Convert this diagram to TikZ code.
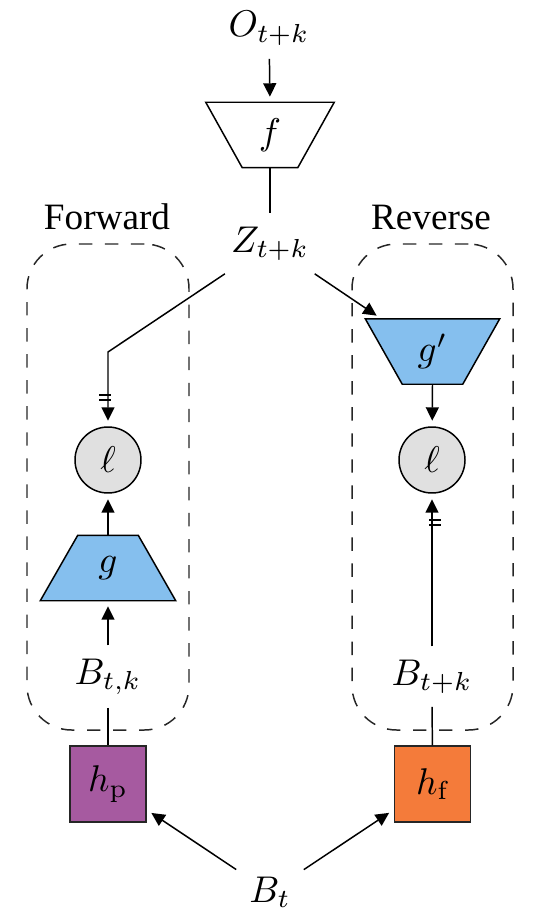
\documentclass[tikz,border=0pt]{standalone}
\usepackage{fontspec}
\newfontfamily\labelfont{Liberation Serif}
\usetikzlibrary{arrows.meta,decorations.markings,calc}
\def\PX{0.2688pt}
\definecolor{tblue}{RGB}{133,191,238}
\definecolor{tpurple}{RGB}{166,90,160}
\definecolor{torange}{RGB}{244,123,58}
\definecolor{lossgray}{RGB}{224,224,224}
\tikzset{
  arr/.style={-{Triangle[length=3.6pt,width=3.5pt]},shorten >=1.5pt},
  plain/.style={draw=none,inner sep=0pt},
  txt/.style={inner sep=3.33pt},
  trapbox/.style={draw=none,inner sep=0pt,minimum height=64*\PX},
  trapline/.style={draw=black,line join=miter},
  loss/.style={circle,draw=black,fill=lossgray,minimum size=66*\PX,inner sep=0pt},
  headbox/.style={rectangle,draw=black!85,minimum size=76*\PX,inner sep=0pt},
  groupbox/.style={rectangle,draw=black!85,dash pattern=on 3.6pt off 3.4pt,rounded corners=12pt,minimum width=162*\PX,minimum height=486*\PX,inner sep=0pt},
  stopgrad/.style={postaction={decorate,decoration={markings,
     mark=at position -7pt with {\draw[-] (0,-2.4pt) -- (0,2.4pt);},
     mark=at position -8.4pt with {\draw[-] (0,-2.4pt) -- (0,2.4pt);}}}},
  grouplabel/.style={font=\labelfont,inner sep=0pt}
}
\begin{document}
\begin{tikzpicture}[x=0.2688pt,y=-0.2688pt]
\useasboundingbox (0,0) rectangle (541,920);
% group boxes
\node[groupbox] (fwd) at (108,487) {};
\node[groupbox,minimum width=161*\PX] (rev) at (432.5,487) {};
\node[grouplabel,anchor=base] (fwdlab) at (107,229) {Forward};
\node[grouplabel,anchor=base] (revlab) at (431,229) {Reverse};
% top
\node[txt,anchor=base] (O) at (269,37) {$O_{t+k}$};
\node[trapbox,minimum width=127*\PX] (f) at (270,135) {$f$};
\draw[trapline] (f.north west) -- (f.north east) -- ([xshift=-36.5*\PX]f.south east) -- ([xshift=36.5*\PX]f.south west) -- cycle;
\node[txt,anchor=base] (Z) at (270,252) {$Z_{t+k}$};
% reverse g'
\node[trapbox,minimum width=133*\PX] (gp) at (432.5,351.5) {$g'$};
\fill[tblue] (gp.north west) -- (gp.north east) -- ([xshift=-37*\PX]gp.south east) -- ([xshift=37*\PX]gp.south west) -- cycle;
\draw[trapline] (gp.north west) -- (gp.north east) -- ([xshift=-37*\PX]gp.south east) -- ([xshift=37*\PX]gp.south west) -- cycle;
\node[trapbox,minimum width=133*\PX] at (gp) {$g'$};
% forward g
\node[trapbox,minimum width=134*\PX] (g) at (108,568) {$g$};
\fill[tblue] (g.south west) -- (g.south east) -- ([xshift=-37.5*\PX]g.north east) -- ([xshift=37.5*\PX]g.north west) -- cycle;
\draw[trapline] (g.south west) -- (g.south east) -- ([xshift=-37.5*\PX]g.north east) -- ([xshift=37.5*\PX]g.north west) -- cycle;
\node[trapbox,minimum width=134*\PX] at (g) {$g$};
% losses
\node[loss] (l1) at (108,460) {$\ell$};
\node[loss] (l2) at (432,460) {$\ell$};
% latent B's
\node[txt,anchor=base] (Btk) at (108,684) {$B_{t,k}$};
\node[txt,anchor=base] (Btpk) at (432,685) {$B_{t+k}$};
% heads
\node[headbox,fill=tpurple] (hp) at (108,784) {$h_{\mathrm{p}}$};
\node[headbox,fill=torange] (hf) at (432.5,784) {$h_{\mathrm{f}}$};
\node[txt,anchor=base] (Bt) at (270,902) {$B_t$};
\coordinate (bend) at (108,352);
% connectors
\draw[arr] (O) -- (f.north);
\draw (f.south) -- (Z);
\draw[arr,stopgrad] (Z) -- (bend) -- (l1);
\draw[arr] (Z) -- ($(gp.north west)+(16,0)$);
\draw[arr] (gp.south) -- (l2);
\draw[arr] (Btk) -- (g.south);
\draw[arr] (g.north) -- (l1);
\draw[arr,stopgrad] (Btpk) -- (l2);
\draw (Btk) -- (hp);
\draw (Btpk) -- (hf);
\draw[arr] (Bt) -- (hp);
\draw[arr] (Bt) -- (hf);
\end{tikzpicture}
\end{document}
